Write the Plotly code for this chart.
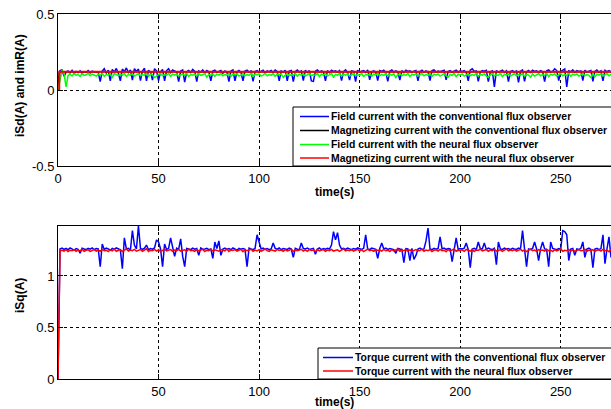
import plotly.graph_objects as go

# ---------------- data ----------------
# time grid, seconds (1 s samples)
time_s = list(range(280))

# Field current, conventional flux observer (mA)
isd_conv_mA = [
    0, 128, 132, 90, 118, 125, 112, 130, 108, 122, 115, 126, 110, 120, 117, 128, 112, 124, 119, 121,
    118, 55, 124, 140, 112, 130, 60, 135, 118, 142, 110, 60, 138, 120, 145, 115, 132, 65, 140, 122,
    138, 62, 125, 143, 60, 130, 118, 65, 140, 126, 62, 120, 135, 60, 128, 140, 115, 132, 122, 118,
    55, 125, 132, 52, 120, 128, 115, 135, 122, 55, 126, 118, 132, 112, 128, 120, 60, 124, 130, 116,
    122, 128, 110, 126, 118, 55, 125, 132, 60, 120, 128, 115, 60, 124, 130, 118, 126, 57, 122, 128,
    116, 124, 130, 112, 126, 120, 128, 115, 132, 122, 60, 126, 118, 130, 60, 124, 128, 55, 120, 132,
    118, 126, 62, 130, 115, 128, 60, 57, 124, 132, 118, 126, 120, 60, 128, 114, 130, 122, 126, 118,
    128, 62, 120, 132, 116, 65, 126, 122, 55, 130, 118, 124, 128, 116, 132, 67, 120, 126, 118, 62,
    128, 122, 130, 116, 57, 124, 132, 118, 126, 120, 65, 128, 114, 130, 122, 126, 118, 124, 128, 60,
    122, 130, 116, 126, 120, 62, 128, 132, 118, 124, 120, 126, 130, 67, 122, 128, 116, 124, 130, 118,
    126, 122, 128, 116, 60, 130, 140, 122, 126, 57, 118, 128, 124, 130, 55, 120, 126, 20, 128, 118,
    124, 130, 116, 126, 55, 122, 128, 118, 126, 50, 124, 132, 57, 120, 128, 116, 130, 122, 126, 118,
    128, 120, 55, 126, 132, 118, 124, 140, 128, 62, 122, 130, 138, 20, 126, 120, 132, 116, 128, 122,
    126, 62, 130, 118, 124, 128, 57, 122, 132, 116, 126, 60, 130, 120, 128, 118, 124, 130, 122, 126,
]

# Field current, neural flux observer (mA)
isd_neural_mA = [
    0, 60, 130, 110, 20, 95, 104, 92, 108, 98, 102, 90, 106, 96, 100, 110, 94, 104, 98, 92,
    104, 96, 110, 90, 102, 98, 106, 84, 108, 100, 94, 104, 96, 110, 88, 102, 98, 106, 92, 100,
    108, 94, 102, 96, 110, 90, 104, 98, 82, 92, 100, 108, 94, 102, 96, 110, 90, 104, 98, 106,
    92, 100, 106, 96, 110, 88, 102, 98, 104, 92, 108, 96, 100, 110, 84, 102, 98, 106, 90, 104,
    98, 108, 94, 102, 96, 110, 90, 104, 100, 106, 92, 98, 108, 94, 102, 96, 110, 88, 104, 100,
    106, 92, 98, 110, 94, 102, 96, 108, 90, 104, 100, 106, 82, 98, 108, 94, 102, 96, 110, 90,
    104, 98, 106, 92, 100, 108, 94, 102, 96, 110, 88, 104, 98, 106, 92, 100, 108, 84, 102, 96,
    110, 90, 104, 98, 106, 92, 100, 108, 94, 102, 96, 110, 88, 102, 98, 106, 90, 104, 100, 108,
    94, 102, 96, 110, 90, 104, 98, 106, 82, 100, 108, 94, 102, 96, 110, 88, 104, 98, 106, 92,
    100, 108, 94, 102, 96, 110, 90, 104, 98, 106, 92, 100, 108, 94, 84, 102, 96, 110, 88, 104,
    98, 106, 92, 100, 108, 94, 102, 96, 110, 90, 104, 98, 106, 92, 82, 100, 108, 94, 102, 96,
    110, 88, 104, 98, 106, 92, 100, 108, 94, 102, 96, 110, 90, 104, 98, 84, 106, 92, 100, 108,
    94, 102, 96, 110, 88, 104, 98, 106, 92, 100, 108, 94, 102, 96, 110, 90, 104, 98, 106, 92,
    100, 108, 94, 102, 96, 82, 110, 88, 104, 98, 106, 92, 100, 108, 94, 102, 96, 110, 90, 104,
]

# Magnetizing currents (A): nearly flat after start-up
imr_conv_t = [0, 0.6, 2, 279]
imr_conv_A = [0, 0.118, 0.12, 0.12]
imr_neural_t = [0, 0.6, 0.7, 279]
imr_neural_A = [0, 0.0, 0.12, 0.12]

# Torque current, conventional flux observer (mA)
isq_conv_mA = [
    0, 1262, 1270, 1258, 1268, 1255, 1272, 1262, 1250, 1266, 1258, 1222, 1270, 1262, 1256, 1268, 1260, 1272, 1255, 1266,
    1262, 1090, 1310, 1258, 1270, 1262, 1250, 1268, 1258, 1272, 1262, 1255, 1070, 1370, 1262, 1268, 1250, 1440, 1300, 1262,
    1485, 1268, 1258, 1270, 1300, 1255, 1266, 1260, 1272, 1350, 1330, 1262, 1090, 1310, 1258, 1268, 1370, 1262, 1190, 1270,
    1258, 1360, 1190, 1090, 1268, 1262, 1255, 1270, 1260, 1266, 1200, 1272, 1258, 1262, 1268, 1255, 1262, 1170, 1330, 1266,
    1340, 1200, 1262, 1270, 1258, 1266, 1255, 1272, 1262, 1250, 1268, 1260, 1266, 1258, 1090, 1270, 1262, 1255, 1268, 1400,
    1330, 1262, 1270, 1258, 1266, 1255, 1262, 1320, 1268, 1260, 1272, 1255, 1266, 1262, 1258, 1270, 1262, 1180, 1268, 1260,
    1255, 1320, 1266, 1262, 1270, 1258, 1262, 1268, 1210, 1262, 1272, 1255, 1266, 1260, 1268, 1262, 1300, 1430, 1350, 1420,
    1300, 1262, 1268, 1258, 1270, 1262, 1255, 1266, 1260, 1272, 1262, 1258, 1268, 1400, 1262, 1255, 1270, 1262, 1258, 1170,
    1266, 1320, 1262, 1270, 1258, 1266, 1262, 1255, 1220, 1268, 1262, 1258, 1130, 1266, 1262, 1150, 1268, 1160, 1200, 1262,
    1270, 1258, 1262, 1340, 1465, 1262, 1255, 1268, 1260, 1266, 1380, 1262, 1270, 1258, 1266, 1262, 1140, 1268, 1370, 1258,
    1266, 1262, 1270, 1320, 1258, 1080, 1262, 1268, 1255, 1330, 1266, 1262, 1320, 1258, 1270, 1262, 1255, 1268, 1110, 1330,
    1262, 1258, 1270, 1262, 1266, 1255, 1268, 1262, 1258, 1270, 1262, 1440, 1266, 1090, 1262, 1258, 1268, 1330, 1262, 1150,
    1266, 1330, 1262, 1258, 1090, 1330, 1268, 1262, 1255, 1266, 1262, 1440, 1430, 1400, 1150, 1262, 1268, 1200, 1262, 1258,
    1266, 1330, 1180, 1262, 1270, 1258, 1080, 1262, 1268, 1255, 1266, 1400, 1120, 1262, 1380, 1180, 1262, 1268, 1258, 1266,
]

# Torque current, neural flux observer (mA)
isq_neural_mA = [
    0, 1245, 1250, 1242, 1255, 1238, 1250, 1246, 1256, 1240, 1252, 1244, 1258, 1240, 1250, 1254, 1238, 1248, 1256, 1242,
    1252, 1240, 1258, 1246, 1250, 1236, 1254, 1244, 1260, 1240, 1250, 1256, 1238, 1248, 1262, 1242, 1252, 1246, 1258, 1240,
    1248, 1256, 1240, 1252, 1264, 1238, 1250, 1246, 1258, 1242, 1254, 1236, 1250, 1260, 1244, 1248, 1256, 1240, 1252, 1246,
    1258, 1242, 1250, 1254, 1238, 1262, 1246, 1250, 1240, 1256, 1244, 1252, 1258, 1238, 1250, 1246, 1260, 1242, 1254, 1248,
    1240, 1256, 1250, 1244, 1262, 1238, 1252, 1248, 1256, 1242, 1250, 1258, 1236, 1254, 1246, 1250, 1260, 1240, 1252, 1244,
    1256, 1240, 1250, 1262, 1246, 1238, 1254, 1250, 1242, 1258, 1248, 1252, 1240, 1256, 1244, 1250, 1262, 1238, 1252, 1246,
    1250, 1258, 1242, 1254, 1240, 1256, 1248, 1252, 1236, 1260, 1244, 1250, 1256, 1240, 1252, 1246, 1258, 1242, 1250, 1254,
    1238, 1250, 1262, 1244, 1252, 1246, 1256, 1240, 1250, 1258, 1242, 1254, 1236, 1250, 1260, 1246, 1252, 1240, 1256, 1248,
    1252, 1242, 1258, 1246, 1250, 1238, 1256, 1244, 1252, 1262, 1240, 1250, 1246, 1258, 1242, 1254, 1238, 1250, 1256, 1244,
    1248, 1260, 1240, 1252, 1246, 1256, 1238, 1250, 1254, 1242, 1258, 1246, 1250, 1236, 1256, 1244, 1252, 1262, 1240, 1250,
    1246, 1254, 1240, 1258, 1250, 1242, 1256, 1238, 1252, 1248, 1260, 1244, 1250, 1256, 1240, 1252, 1246, 1258, 1242, 1250,
    1254, 1238, 1250, 1262, 1244, 1252, 1246, 1256, 1240, 1250, 1258, 1242, 1254, 1236, 1250, 1260, 1246, 1252, 1240, 1256,
    1248, 1252, 1242, 1258, 1246, 1250, 1238, 1256, 1244, 1252, 1262, 1240, 1250, 1246, 1258, 1242, 1254, 1238, 1250, 1256,
    1244, 1248, 1260, 1240, 1252, 1246, 1256, 1238, 1250, 1254, 1242, 1258, 1246, 1250, 1236, 1256, 1244, 1252, 1262, 1240,
]

x_ticks_top = [0, 50, 100, 150, 200, 250]
x_ticks_bottom = [50, 100, 150, 200, 250]
y_ticks_top = [-0.5, 0, 0.5]
y_tick_text_top = ["-0.5", "0", "0.5"]
y_ticks_bottom = [0, 0.5, 1]
y_tick_text_bottom = ["0", "0.5", "1"]

legend_top = [
    ("Field current with the conventional flux observer", "#0000ff"),
    ("Magnetizing current with the conventional flux observer", "#000000"),
    ("Field current with the neural flux observer", "#00ff00"),
    ("Magnetizing current with the neural flux observer", "#ff0000"),
]
legend_bottom = [
    ("Torque current with the conventional flux observer", "#0000ff"),
    ("Torque current with the neural flux observer", "#ff0000"),
]

# ---------------- figure ----------------
W, H = 611, 409
ML, MR, MT, MB = 58, 0, 14, 30
PW = W - ML - MR
PH = H - MT - MB


def fx(px):
    return (px - ML) / PW


def fy(py):
    return (H - MB - py) / PH


BLUE, GREEN, RED, BLACK = "#0000ff", "#00ff00", "#ff0000", "#000000"
LW = 1.5

fig = go.Figure()
fig.add_trace(go.Scatter(x=time_s, y=[v / 1000 for v in isd_conv_mA], mode="lines",
                         line=dict(color=BLUE, width=LW), xaxis="x", yaxis="y",
                         name=legend_top[0][0]))
fig.add_trace(go.Scatter(x=imr_conv_t, y=imr_conv_A, mode="lines",
                         line=dict(color=BLACK, width=LW), xaxis="x", yaxis="y",
                         name=legend_top[1][0]))
fig.add_trace(go.Scatter(x=time_s, y=[v / 1000 for v in isd_neural_mA], mode="lines",
                         line=dict(color=GREEN, width=LW), xaxis="x", yaxis="y",
                         name=legend_top[2][0]))
fig.add_trace(go.Scatter(x=imr_neural_t, y=imr_neural_A, mode="lines",
                         line=dict(color=RED, width=2), xaxis="x", yaxis="y",
                         name=legend_top[3][0]))
fig.add_trace(go.Scatter(x=time_s, y=[v / 1000 for v in isq_conv_mA], mode="lines",
                         line=dict(color=BLUE, width=LW), xaxis="x2", yaxis="y2",
                         name=legend_bottom[0][0]))
fig.add_trace(go.Scatter(x=time_s, y=[v / 1000 for v in isq_neural_mA], mode="lines",
                         line=dict(color=RED, width=LW), xaxis="x2", yaxis="y2",
                         name=legend_bottom[1][0]))

FONT = "Liberation Sans, Arial, sans-serif"
common = dict(showline=True, linecolor="black", linewidth=1, ticks="inside", ticklen=5,
              tickcolor="black", tickwidth=1, showgrid=True, gridcolor="black", griddash="dot",
              gridwidth=1, zeroline=False, tickfont=dict(family=FONT, size=13, color="black"))

top_dom = [fy(166), fy(14)]
bot_dom = [fy(379), fy(226)]

fig.update_layout(
    width=W, height=H, margin=dict(l=ML, r=MR, t=MT, b=MB),
    paper_bgcolor="white", plot_bgcolor="white", showlegend=False,
    font=dict(family=FONT, color="black"),
    xaxis=dict(common, domain=[0, 1], range=[0, 275], anchor="y", tickvals=x_ticks_top,
               mirror="ticks"),
    yaxis=dict(common, domain=top_dom, range=[-0.5, 0.5], anchor="x", tickvals=y_ticks_top,
               ticktext=y_tick_text_top),
    xaxis2=dict(common, domain=[0, 1], range=[0, 275], anchor="y2", tickvals=x_ticks_bottom,
                mirror="ticks"),
    yaxis2=dict(common, domain=bot_dom, range=[0, 1.485], anchor="x2", tickvals=y_ticks_bottom,
                ticktext=y_tick_text_bottom),
)

shapes = []
annots = []
LFONT = dict(family=FONT, size=10.4, color="black")


def add_legend(items, box_x0, box_y0, box_y1, row_ys, line_x0, line_x1, text_x):
    shapes.append(dict(type="rect", xref="paper", yref="paper", x0=fx(box_x0), x1=fx(W + 40),
                       y0=fy(box_y1), y1=fy(box_y0), fillcolor="white",
                       line=dict(color="black", width=1), layer="above"))
    for (label, color), ry in zip(items, row_ys):
        shapes.append(dict(type="line", xref="paper", yref="paper", x0=fx(line_x0), x1=fx(line_x1),
                           y0=fy(ry), y1=fy(ry), line=dict(color=color, width=1.5), layer="above"))
        annots.append(dict(xref="paper", yref="paper", x=fx(text_x), y=fy(ry), text="<b>%s</b>" % label,
                           showarrow=False, xanchor="left", yanchor="middle", font=LFONT,
                           borderpad=0))


add_legend(legend_top, 293, 107, 166, [116.5, 130.5, 144.5, 158], 300, 329, 330)
add_legend(legend_bottom, 318, 348, 379, [357.5, 371], 323, 353, 354)

TFONT = dict(family=FONT, size=12, color="black")
annots += [
    dict(xref="paper", yref="paper", x=fx(334), y=fy(192), text="<b>time(s)</b>", showarrow=False,
         xanchor="center", yanchor="middle", font=TFONT),
    dict(xref="paper", yref="paper", x=fx(334), y=fy(402), text="<b>time(s)</b>", showarrow=False,
         xanchor="center", yanchor="middle", font=TFONT),
    dict(xref="paper", yref="paper", x=fx(20), y=fy(86), text="<b>iSd(A) and imR(A)</b>",
         showarrow=False, textangle=-90, xanchor="center", yanchor="middle", font=TFONT),
    dict(xref="paper", yref="paper", x=fx(20), y=fy(296), text="<b>iSq(A)</b>",
         showarrow=False, textangle=-90, xanchor="center", yanchor="middle", font=TFONT),
]

fig.update_layout(shapes=shapes, annotations=annots)
fig.write_html("out.html")
